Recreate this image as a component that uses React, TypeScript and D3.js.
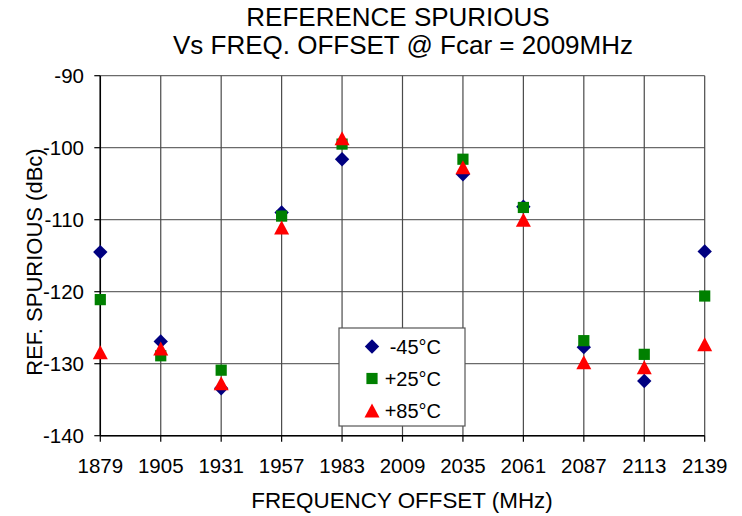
import React from "react";
import * as d3 from "d3";

const freqs = [1879, 1905, 1931, 1957, 1983, 2009, 2035, 2061, 2087, 2113, 2139];
const minus45: (number | null)[] = [-114.5, -126.9, -133.4, -109.0, -101.6, null, -103.7, -108.2, -127.7, -132.4, -114.4];
const plus25: (number | null)[] = [-121.1, -128.9, -130.9, -109.5, -99.5, null, -101.6, -108.3, -126.8, -128.7, -120.6];
const plus85: (number | null)[] = [-128.4, -127.9, -132.7, -111.1, -98.7, null, -102.7, -110.0, -129.8, -130.5, -127.3];
const yTicks = [-90, -100, -110, -120, -130, -140];
const seriesNames = ["-45°C", "+25°C", "+85°C"];

const W = 742, H = 516;
const FONT = "'Liberation Sans', Arial, Helvetica, sans-serif";

const x = d3.scaleLinear().domain([1879, 2139]).range([100.3, 704.7]);
const y = d3.scaleLinear().domain([-90, -140]).range([75.7, 435.7]);

function diamond(cx: number, cy: number) {
  const p = d3.path();
  p.moveTo(cx, cy - 7.2);
  p.lineTo(cx + 7.2, cy);
  p.lineTo(cx, cy + 7.2);
  p.lineTo(cx - 7.2, cy);
  p.closePath();
  return p.toString();
}
function square(cx: number, cy: number) {
  const s = 5.6;
  const p = d3.path();
  p.rect(cx - s, cy - s, 2 * s, 2 * s);
  return p.toString();
}
function triangle(cx: number, cy: number) {
  const hw = 7.5, hh = 7;
  const p = d3.path();
  p.moveTo(cx, cy - hh);
  p.lineTo(cx + hw, cy + hh);
  p.lineTo(cx - hw, cy + hh);
  p.closePath();
  return p.toString();
}

const series = [
  { name: seriesNames[0], values: minus45, color: "#000080", shape: diamond },
  { name: seriesNames[1], values: plus25, color: "#008000", shape: square },
  { name: seriesNames[2], values: plus85, color: "#FF0000", shape: triangle },
];

export default function App() {
  const [x0, x1] = x.range();
  const [y0, y1] = y.range();
  const legX = 339, legY = 328, legW = 126, legH = 98;
  return (
    <svg width={W} height={H} style={{ position: "absolute", left: 0, top: 0, background: "#fff" }} fontFamily={FONT}>
      <rect x={0} y={0} width={W} height={H} fill="#fff" />
      {/* title */}
      <text x={398} y={25.5} fontSize={26} textAnchor="middle" fill="#000">REFERENCE SPURIOUS</text>
      <text x={403} y={53.5} fontSize={26} textAnchor="middle" fill="#000">Vs FREQ. OFFSET @ Fcar = 2009MHz</text>

      {/* gridlines */}
      {yTicks.map((t) => (
        <line key={"gy" + t} x1={x0} x2={x1} y1={y(t)} y2={y(t)} stroke="#6a6a6a" strokeWidth={1.2} />
      ))}
      {freqs.map((f) => (
        <line key={"gx" + f} x1={x(f)} x2={x(f)} y1={y0} y2={y1} stroke="#4a4a4a" strokeWidth={1.2} />
      ))}
      {/* axes */}
      <line x1={x0} x2={x0} y1={y0} y2={y1} stroke="#000" strokeWidth={1.5} />
      <line x1={x0} x2={x1} y1={y1} y2={y1} stroke="#000" strokeWidth={1.5} />
      {yTicks.map((t) => (
        <g key={"ty" + t}>
          <line x1={x0 - 6} x2={x0} y1={y(t)} y2={y(t)} stroke="#000" strokeWidth={1.2} />
          <text x={84} y={y(t) + 7.3} fontSize={20.5} textAnchor="end">{t}</text>
        </g>
      ))}
      {freqs.map((f) => (
        <g key={"tx" + f}>
          <line x1={x(f)} x2={x(f)} y1={y1} y2={y1 + 6} stroke="#000" strokeWidth={1.2} />
          <text x={x(f)} y={473} fontSize={20.5} textAnchor="middle">{f}</text>
        </g>
      ))}
      <text x={402} y={507.5} fontSize={22.4} textAnchor="middle">FREQUENCY OFFSET (MHz)</text>
      <text transform={`translate(42,262) rotate(-90)`} fontSize={22} textAnchor="middle">REF. SPURIOUS (dBc)</text>

      {/* points */}
      {series.map((s) => (
        <g key={s.name}>
          {s.values.map((v, i) =>
            v == null ? null : <path key={i} d={s.shape(x(freqs[i]), y(v))} fill={s.color} />
          )}
        </g>
      ))}

      {/* legend */}
      <rect x={legX} y={legY} width={legW} height={legH} fill="#fff" stroke="#555" strokeWidth={1.2} />
      {series.map((s, i) => (
        <g key={"leg" + s.name}>
          <path d={s.shape(372, 346.5 + i * 32)} fill={s.color} />
          <text x={441} y={354 + i * 32} fontSize={20} textAnchor="end">{s.name}</text>
        </g>
      ))}
    </svg>
  );
}
